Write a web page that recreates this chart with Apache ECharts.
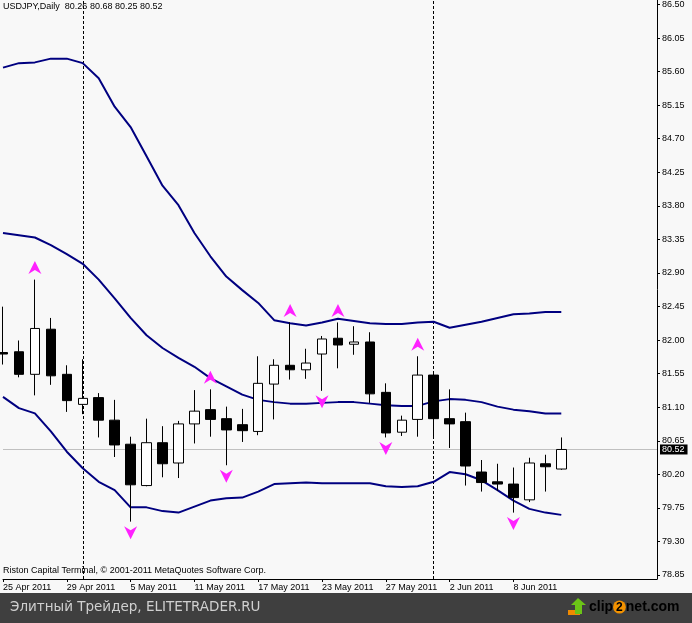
<!DOCTYPE html>
<html><head><meta charset="utf-8">
<script src="https://cdn.jsdelivr.net/npm/echarts@6/dist/echarts.min.js"></script>
<style>html,body{margin:0;padding:0;background:#f8f8f8;}#c{width:692px;height:623px;}</style>
</head><body><div id="c"></div>
<script>
// ---- data ----
const dates = ['25 Apr 2011','26 Apr 2011','27 Apr 2011','28 Apr 2011','29 Apr 2011',
  '2 May 2011','3 May 2011','4 May 2011','5 May 2011','6 May 2011','9 May 2011','10 May 2011','11 May 2011',
  '12 May 2011','13 May 2011','16 May 2011','17 May 2011','18 May 2011','19 May 2011','20 May 2011',
  '23 May 2011','24 May 2011','25 May 2011','26 May 2011','27 May 2011','30 May 2011','31 May 2011',
  '1 Jun 2011','2 Jun 2011','3 Jun 2011','6 Jun 2011','7 Jun 2011','8 Jun 2011','9 Jun 2011','10 Jun 2011','13 Jun 2011',
  '14 Jun 2011','15 Jun 2011','16 Jun 2011','17 Jun 2011','20 Jun 2011','21 Jun 2011'];
const opens  = [81.81,81.82,81.52,82.12,81.52,81.12,81.21,80.91,80.59,80.04,80.61,80.34,80.86,81.05,80.93,80.85,80.76,81.39,81.64,81.58,81.79,82.00,81.92,81.95,81.28,80.75,80.92,81.51,80.93,80.89,80.22,80.09,80.06,79.85,80.33,80.26];
const closes = [81.79,81.52,82.13,81.50,81.17,81.20,80.91,80.58,80.05,80.61,80.33,80.86,81.03,80.92,80.78,80.77,81.40,81.64,81.58,81.67,81.99,81.91,81.95,81.26,80.74,80.91,81.51,80.93,80.86,80.30,80.08,80.06,79.88,80.34,80.29,80.52];
const lows   = [81.65,81.48,81.24,81.38,81.02,80.99,80.68,80.42,79.56,80.03,80.15,80.14,80.60,80.69,80.31,80.62,80.71,80.92,81.45,81.46,81.30,81.60,81.78,81.14,80.68,80.70,80.69,80.66,80.54,80.04,79.96,79.97,79.68,79.82,79.96,80.25];
const highs  = [82.42,81.97,82.78,82.27,81.64,81.72,81.27,81.18,80.69,80.93,80.83,80.90,81.31,81.32,81.09,81.06,81.76,81.72,82.21,81.86,82.03,82.21,82.16,82.08,81.40,80.97,81.76,81.53,81.32,81.01,80.38,80.33,80.28,80.41,80.45,80.68];
const upperBand  = [85.60,85.66,85.67,85.72,85.72,85.66,85.46,85.08,84.81,84.42,84.03,83.77,83.40,83.09,82.82,82.64,82.47,82.24,82.20,82.17,82.21,82.26,82.23,82.20,82.19,82.19,82.21,82.22,82.14,82.18,82.22,82.27,82.32,82.33,82.35,82.35];
const middleBand = [83.40,83.37,83.34,83.24,83.12,82.99,82.78,82.53,82.27,82.04,81.87,81.74,81.62,81.47,81.36,81.25,81.18,81.15,81.13,81.13,81.14,81.15,81.15,81.13,81.11,81.10,81.10,81.16,81.19,81.18,81.15,81.09,81.05,81.03,81.00,81.00];
const lowerBand  = [81.22,81.07,81.00,80.76,80.49,80.27,80.09,79.98,79.75,79.75,79.70,79.68,79.76,79.84,79.87,79.88,79.96,80.06,80.07,80.08,80.07,80.07,80.07,80.07,80.03,80.02,80.03,80.09,80.22,80.19,80.11,79.98,79.84,79.73,79.68,79.65];
const fractalUpIdx   = [2,13,18,21,26];
const fractalDownIdx = [8,14,20,24,32];
const separators = ['2 May 2011','1 Jun 2011'];
const lastPrice = 80.52;
const symbolName = 'USDJPY,Daily';
const yMin = 78.85, yMax = 86.50, yStep = 0.45;

// ---- chart ----
const font = 'Liberation Sans, Arial, sans-serif';
const n = opens.length;
const tickShown = (i) => i % 4 === 0 && i < n - 2;
const chart = echarts.init(document.getElementById('c'), null, {renderer:'canvas'});
const plotH1 = 579, plotH2 = 575;
const dataMin = yMax - (yMax - yMin) * plotH1 / plotH2;
const upPath = 'path://M6.5,0 L13,13 L6.5,9 L0,13 Z';
const downPath = 'path://M0,0 L6.5,4 L13,0 L6.5,13 Z';
const last = n - 1;

chart.setOption({
  animation: false,
  backgroundColor: '#f8f8f8',
  grid: [
    {left: 0, right: 35, top: 0, bottom: 623 - plotH1},
    {left: 0, right: 35, top: 0, bottom: 623 - plotH2}
  ],
  xAxis: [
    {type: 'category', gridIndex: 0, data: dates, boundaryGap: false,
     axisLine: {show: true, onZero: false, lineStyle: {color: '#000', width: 1}},
     axisTick: {show: true, length: 3, interval: tickShown, lineStyle: {color: '#000'}},
     axisLabel: {interval: tickShown, align: 'left', margin: 4, fontSize: 9, fontFamily: font, color: '#000'},
     splitLine: {show: false}},
    {type: 'value', gridIndex: 1, show: false, min: 0, max: 1, axisLine: {onZero: false}}
  ],
  yAxis: [
    {type: 'value', gridIndex: 0, position: 'right', min: dataMin, max: yMax,
     axisLine: {show: true, onZero: false, lineStyle: {color: '#000', width: 1}},
     axisTick: {show: false}, axisLabel: {show: false}, splitLine: {show: false}},
    {type: 'value', gridIndex: 1, position: 'right', min: yMin, max: yMax, interval: yStep,
     axisLine: {show: false, onZero: false}, axisTick: {show: true, length: 3, lineStyle: {color: '#000'}},
     axisLabel: {margin: 5, fontSize: 9, fontFamily: font, color: '#000', formatter: v => v.toFixed(2)},
     splitLine: {show: false}}
  ],
  series: [
    {type: 'line', name: 'upper', data: upperBand, symbol: 'none', z: 2,
     lineStyle: {color: '#000080', width: 2}},
    {type: 'line', name: 'middle', data: middleBand, symbol: 'none', z: 2,
     lineStyle: {color: '#000080', width: 2},
     markLine: {silent: true, z: 1, symbol: ['none', 'none'],
       data: separators.map(s => ({xAxis: s})),
       lineStyle: {color: '#000', type: [3, 2], width: 1}, label: {show: false}}},
    {type: 'line', name: 'lower', data: lowerBand, symbol: 'none', z: 2,
     lineStyle: {color: '#000080', width: 2},
     markLine: {silent: true, z: 1, symbol: ['none', 'none'],
       data: [{yAxis: lastPrice}],
       lineStyle: {color: '#c0c0c0', type: 'solid', width: 1},
       label: {show: true, position: 'end', distance: 3, formatter: lastPrice.toFixed(2),
         color: '#fff', backgroundColor: '#000', padding: [1, 3, 0, 2], fontSize: 9, fontFamily: font}}},
    {type: 'candlestick', z: 3, barWidth: 10,
     data: opens.map((o, i) => [o, closes[i], lows[i], highs[i]]),
     itemStyle: {color: '#ffffff', color0: '#000000', borderColor: '#000000', borderColor0: '#000000', borderColorDoji: '#000000', borderWidth: 1}},
    {type: 'scatter', z: 4, symbol: upPath, symbolSize: [13, 13], symbolOffset: [0, -12],
     data: fractalUpIdx.map(i => [i, highs[i]]), itemStyle: {color: '#ff22ff', opacity: 1}},
    {type: 'scatter', z: 4, symbol: downPath, symbolSize: [13, 13], symbolOffset: [0, 11],
     data: fractalDownIdx.map(i => [i, lows[i]]), itemStyle: {color: '#ff22ff', opacity: 1}}
  ],
  graphic: [
    {type: 'text', left: 3, top: 2, z: 10, style: {
      text: symbolName + '  ' + [opens[last], highs[last], lows[last], closes[last]].map(v => v.toFixed(2)).join(' '),
      font: '9px ' + font, fill: '#000'}},
    {type: 'text', left: 3, top: 566, z: 10, style: {
      text: 'Riston Capital Terminal, © 2001-2011 MetaQuotes Software Corp.', font: '9px ' + font, fill: '#000'}},
    {type: 'rect', left: 0, top: 593, z: 10, shape: {width: 692, height: 30}, style: {fill: '#3f3f3f'}},
    {type: 'text', left: 10, top: 600, z: 11, style: {
      text: 'Элитный Трейдер, ELITETRADER.RU', font: '13.5px DejaVu Sans, sans-serif', fill: '#d0d0d0'}},
    {type: 'polygon', z: 11, shape: {points: [[568, 610], [580, 610], [580, 615], [568, 615]]}, style: {fill: '#f08a00'}},
    {type: 'polygon', z: 12, shape: {points: [[578, 598], [586, 605], [582, 605], [582, 614], [575, 614], [575, 605], [571, 605]]}, style: {fill: '#6cc417'}},
    {type: 'text', left: 589, top: 600, z: 11, style: {
      text: '{a|clip}{b|2}{a|net}{c|.com}',
      rich: {
        a: {font: 'bold 14px Liberation Sans, Arial, sans-serif', color: '#ffffff'},
        b: {font: 'bold 12px Liberation Sans, Arial, sans-serif', color: '#ffffff', backgroundColor: '#f39200', borderRadius: 8, padding: [1, 3, 0, 3]},
        c: {font: 'bold 14px Liberation Sans, Arial, sans-serif', color: '#a8a8a8'}
      }}}
  ]
});
</script></body></html>
